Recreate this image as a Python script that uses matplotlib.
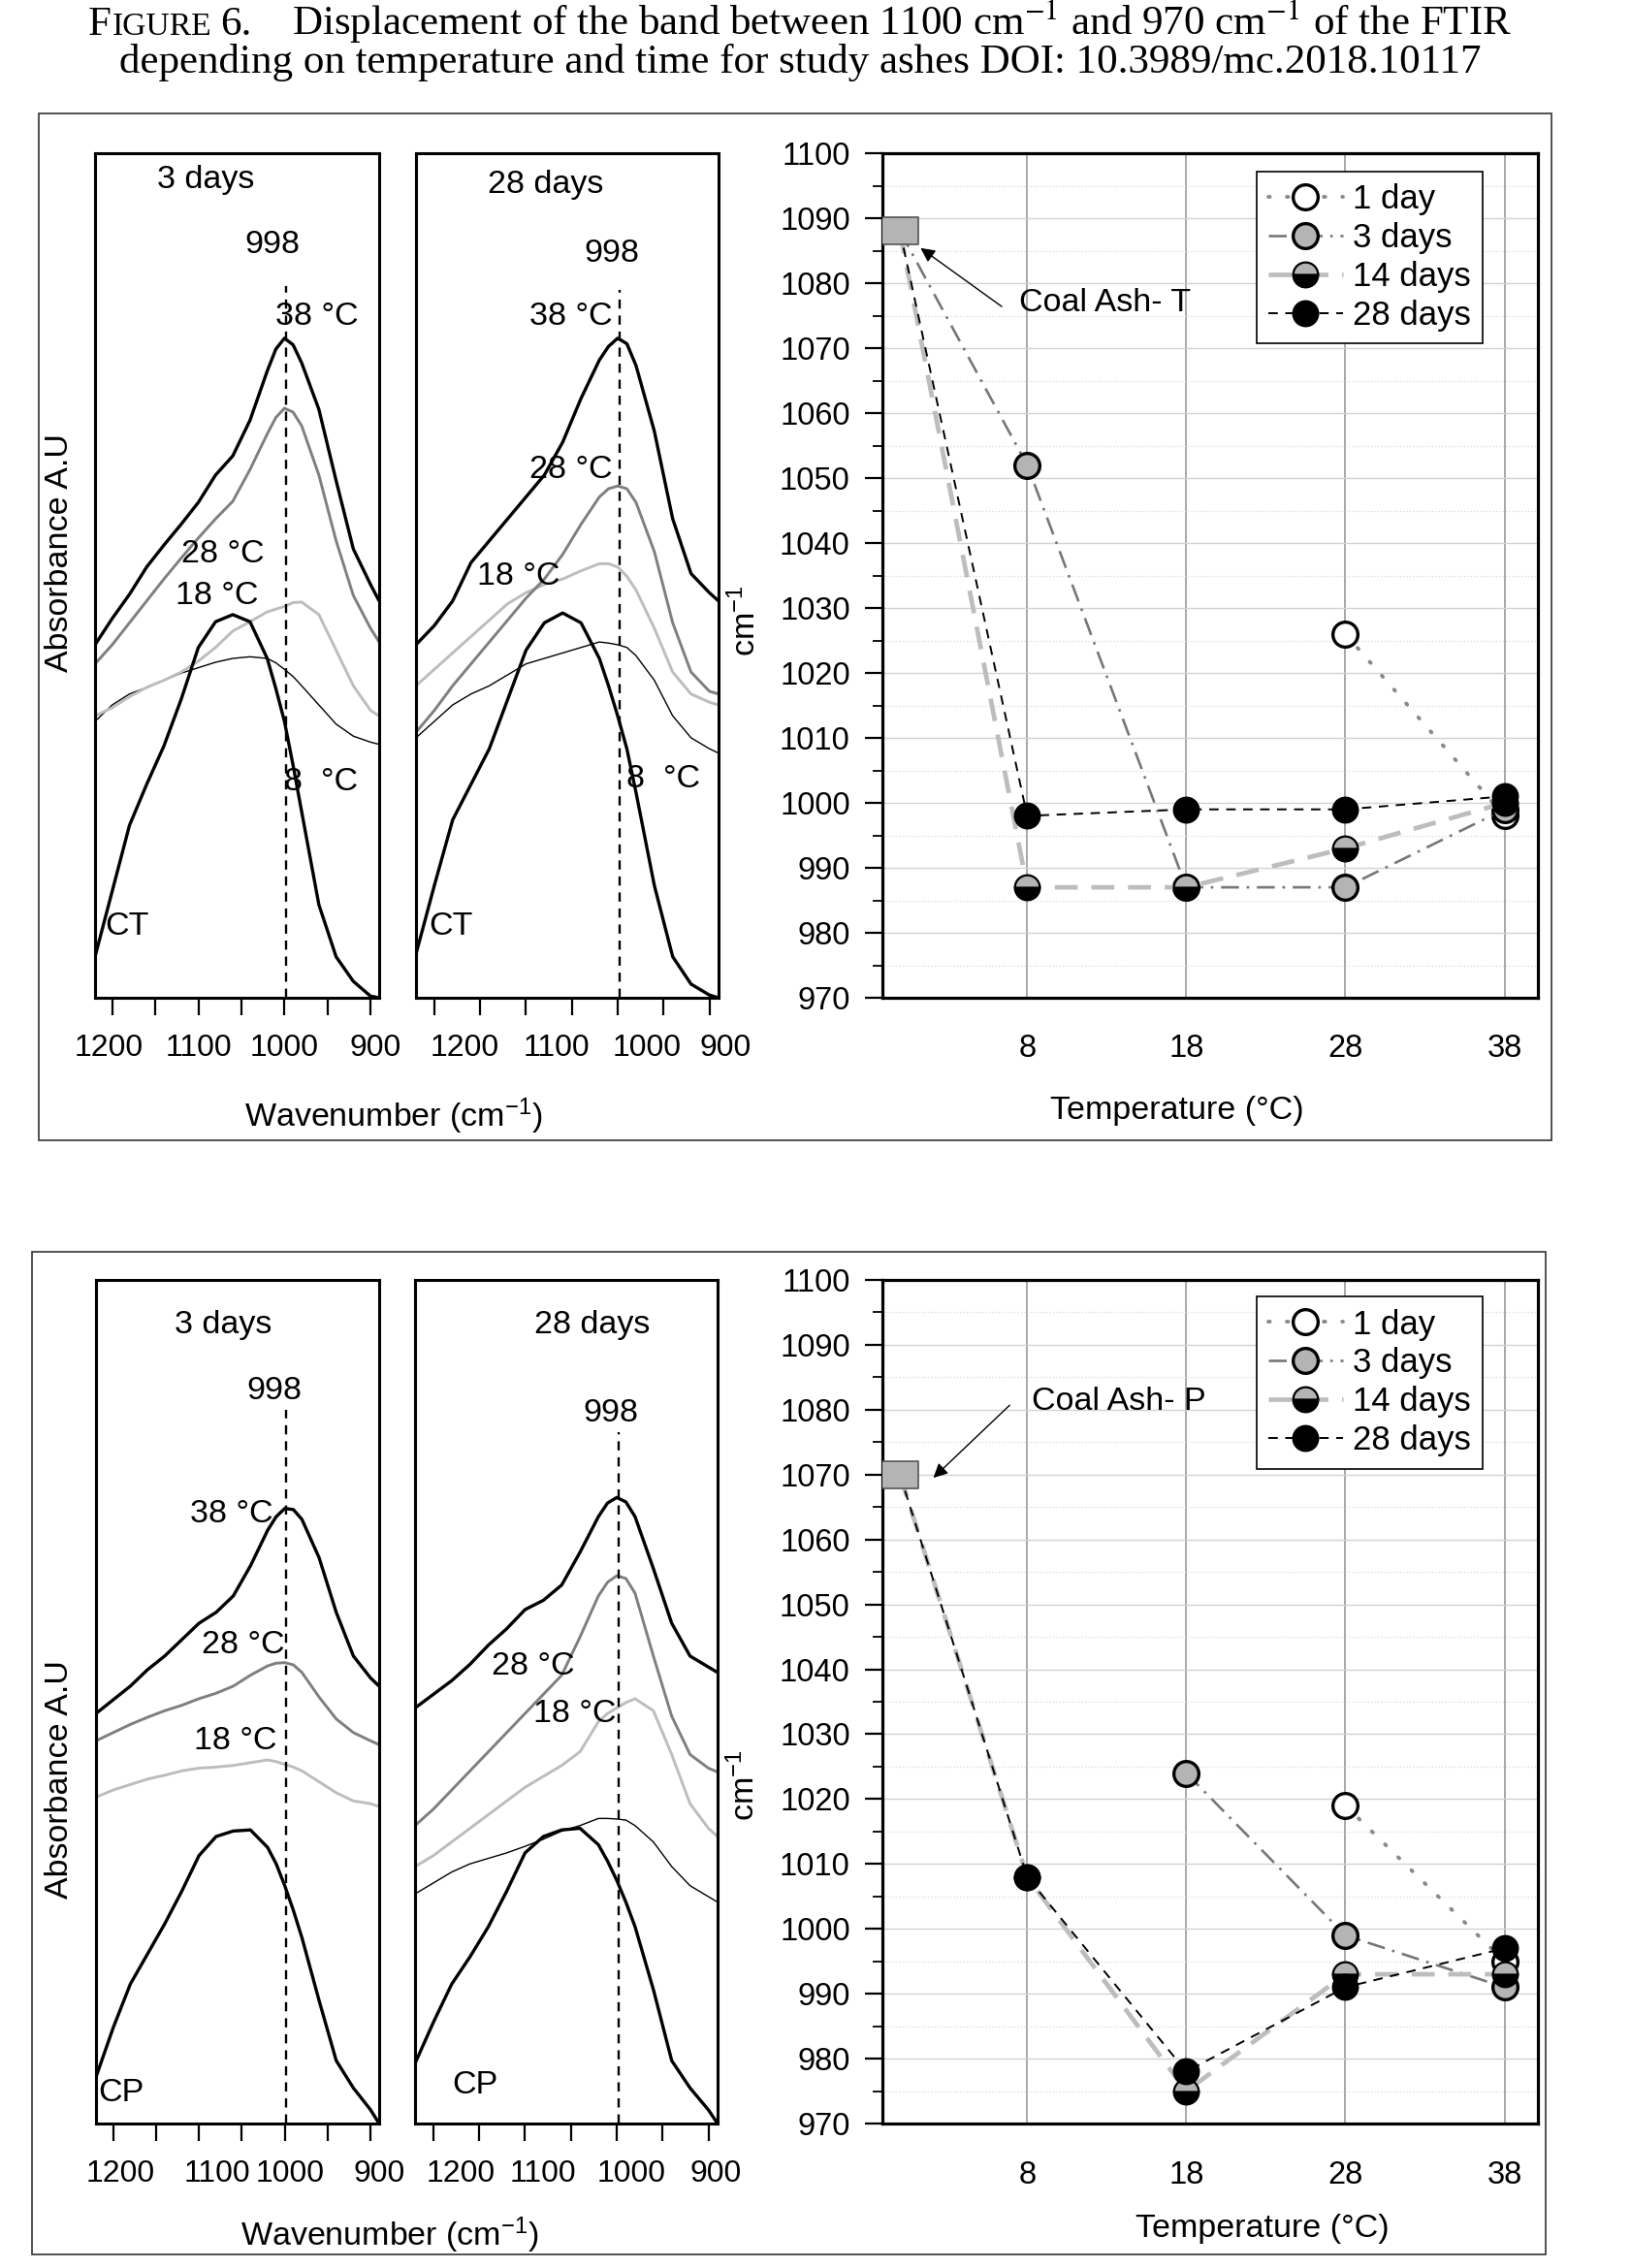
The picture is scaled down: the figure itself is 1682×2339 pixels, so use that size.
import numpy as np
import matplotlib
matplotlib.use('Agg')
import matplotlib.pyplot as plt
from matplotlib.patches import Rectangle
from matplotlib.ticker import FixedLocator, MultipleLocator

plt.rcParams['font.family'] = ['Liberation Sans', 'DejaVu Sans']
plt.rcParams['mathtext.fontset'] = 'custom'
plt.rcParams['mathtext.rm'] = 'Liberation Sans'
plt.rcParams['mathtext.it'] = 'Liberation Sans:italic'
plt.rcParams['mathtext.bf'] = 'Liberation Sans:bold'

# ---------------- data ----------------
wavenumber = [1220, 1200, 1180, 1160, 1140, 1120, 1100, 1080, 1060, 1040,
              1020, 1010, 1000, 990, 980, 960, 940, 920, 900, 890]
wn_ticks = [1200, 1100, 1000, 900]
wn_minor = [1150, 1050, 950]
band_position = 998

# CT, 3 days
ct3_38 = [645, 693, 737, 787, 827, 865, 905, 955, 990, 1055, 1145, 1185, 1205, 1193, 1160, 1075, 945, 820, 755, 725]
ct3_28 = [610, 645, 685, 725, 765, 803, 840, 875, 907, 965, 1030, 1060, 1077, 1070, 1045, 955, 835, 735, 675, 650]
ct3_18 = [515, 530, 550, 567, 580, 595, 615, 640, 670, 687, 705, 710, 715, 722, 723, 700, 635, 570, 525, 515]
ct3_8 = [505, 535, 555, 567, 580, 593, 603, 613, 620, 623, 620, 612, 600, 587, 570, 535, 500, 478, 467, 463]
ct3_raw = [75, 195, 315, 390, 460, 545, 640, 687, 700, 687, 620, 565, 505, 425, 340, 170, 75, 30, 3, 0]

# CT, 28 days
ct28_38 = [645, 680, 725, 795, 835, 875, 915, 955, 1015, 1095, 1165, 1190, 1205, 1195, 1155, 1035, 875, 775, 740, 725]
ct28_28 = [485, 525, 570, 610, 650, 690, 730, 765, 810, 865, 915, 930, 935, 930, 905, 815, 685, 595, 560, 555]
ct28_18 = [570, 600, 630, 660, 690, 720, 740, 755, 765, 780, 793, 793, 787, 770, 745, 675, 595, 555, 540, 535]
ct28_8 = [475, 505, 535, 555, 570, 590, 610, 620, 630, 640, 650, 648, 645, 640, 625, 580, 515, 475, 455, 447]
ct28_raw = [80, 205, 325, 390, 455, 545, 635, 685, 703, 685, 620, 570, 515, 455, 375, 205, 75, 25, 5, 0]

# CP, 3 days
cp3_38 = [750, 775, 800, 830, 855, 885, 915, 935, 965, 1020, 1085, 1110, 1125, 1123, 1105, 1035, 935, 855, 815, 800]
cp3_28 = [700, 715, 730, 743, 755, 765, 777, 787, 800, 820, 837, 842, 843, 839, 825, 780, 740, 715, 700, 693]
cp3_18 = [597, 610, 620, 630, 637, 645, 650, 652, 655, 660, 665, 662, 657, 652, 645, 625, 605, 590, 585, 580]
cp3_raw = [85, 175, 255, 310, 365, 425, 490, 525, 535, 537, 505, 475, 435, 390, 340, 225, 115, 65, 25, 0]

# CP, 28 days
cp28_38 = [760, 785, 810, 840, 875, 905, 940, 957, 985, 1045, 1110, 1135, 1145, 1137, 1110, 1015, 915, 855, 835, 825]
cp28_28 = [545, 575, 610, 645, 680, 715, 750, 785, 820, 890, 965, 990, 1002, 997, 970, 855, 745, 675, 650, 643]
cp28_18 = [470, 490, 515, 540, 565, 590, 615, 635, 655, 680, 735, 750, 760, 770, 777, 755, 675, 585, 540, 525]
cp28_8 = [420, 440, 460, 475, 485, 495, 507, 520, 535, 545, 558, 558, 557, 555, 545, 515, 470, 435, 415, 405]
cp28_raw = [110, 185, 255, 305, 360, 425, 495, 525, 537, 540, 510, 480, 445, 405, 360, 245, 115, 65, 25, 0]

# band position vs temperature (0 = original coal ash)
temperature = [0, 8, 18, 28, 38]
temp_ticks = [8, 18, 28, 38]
nan = np.nan
ct_1day = [nan, nan, nan, 1026, 998]
ct_3days = [1088, 1052, 987, 987, 999]
ct_14days = [1088, 987, 987, 993, 1000]
ct_28days = [1088, 998, 999, 999, 1001]
ct_ash = 1088
cp_1day = [nan, nan, nan, 1019, 995]
cp_3days = [nan, nan, 1024, 999, 991]
cp_14days = [1070, 1008, 975, 993, 993]
cp_28days = [1070, 1008, 978, 991, 997]
cp_ash = 1070
series_labels = ['1 day', '3 days', '14 days', '28 days']

# ---------------- figure ----------------
W, H = 1683, 2339
fig = plt.figure(figsize=(W / 100, H / 100), dpi=100)


def rect(x0, x1, y0, y1):
    return [x0 / W, 1 - y1 / H, (x1 - x0) / W, (y1 - y0) / H]


FS = 24.5
TICK_FS = 23
BLACK_LW = 2.4
GRAY_LW = 2.1
PX2PT = 0.72


def spectra_axes(pos, curves, labels, vtop, label_shift_px):
    ax = fig.add_axes(pos)
    for vals, color, lw in curves:
        ax.plot(wavenumber, vals, color=color, lw=lw, solid_joinstyle='round',
                solid_capstyle='butt')
    ax.plot([band_position, band_position], [0, vtop], color='black', lw=1.7,
            linestyle=(0, (4, 3)))
    ax.set_xlim(1220, 890)
    ax.set_ylim(0, 1543)
    ax.set_yticks([])
    ax.xaxis.set_major_locator(FixedLocator(wn_ticks))
    ax.xaxis.set_minor_locator(FixedLocator(wn_minor))
    ax.tick_params(axis='x', which='both', direction='out', length=13, width=1.6,
                   labelbottom=False)
    # tick labels as placed in the original (slightly shifted from the ticks)
    for v, dx in zip(wn_ticks, label_shift_px):
        ax.annotate(str(v), xy=(v, 0), xycoords=('data', 'axes fraction'),
                    xytext=(dx * PX2PT, -52 * PX2PT), textcoords='offset points',
                    ha='center', va='center', fontsize=TICK_FS, annotation_clip=False)
    for s in ax.spines.values():
        s.set_linewidth(2.2)
    for txt, x, y, ha in labels:
        ax.text(x, y, txt, fontsize=FS, ha=ha, va='center')
    return ax


def scatter_axes(pos, s1, s2, s3, s4, ash, ann_text, ann_xy, ann_tail, ann_txt_xy, leg_y):
    ax = fig.add_axes(pos)
    ax.set_axisbelow(True)
    MS = 18.5
    ax.plot(temperature, s1, color='#8a8a8a', lw=2.8, linestyle=(0, (0.4, 4.5)),
            dash_capstyle='round', marker='o', ms=MS, mfc='white', mec='black',
            mew=2.4, markevery=[1, 2, 3, 4], label=series_labels[0], zorder=3)
    ax.plot(temperature, s2, color='#777777', lw=1.9, linestyle=(0, (7, 3, 1, 3)),
            marker='o', ms=MS, mfc='#b4b4b4', mec='black', mew=2.4,
            markevery=[1, 2, 3, 4], label=series_labels[1], zorder=4)
    ax.plot(temperature, s3, color='#bdbdbd', lw=3.4, linestyle=(0, (5, 3)),
            marker='o', ms=MS, fillstyle='bottom', mfc='black', mfcalt='#b4b4b4',
            mec='black', mew=1.6, markevery=[1, 2, 3, 4], label=series_labels[2], zorder=5)
    ax.plot(temperature, s4, color='black', lw=1.4, linestyle=(0, (5, 4)),
            marker='o', ms=MS, mfc='black', mec='black', mew=1.6,
            markevery=[1, 2, 3, 4], label=series_labels[3], zorder=6)
    ax.plot([temperature[0]], [ash], linestyle='none',
            marker=[(-1.3, -1), (1.3, -1), (1.3, 1), (-1.3, 1), (-1.3, -1)],
            ms=27, mfc='#b4b4b4', mec='#555555', mew=1.2, zorder=7)
    ax.set_xlim(-1.1, 40.1)
    ax.set_ylim(970, 1100)
    ax.set_xticks(temp_ticks)
    ax.set_yticks(np.arange(970, 1101, 10))
    ax.yaxis.set_minor_locator(MultipleLocator(5))
    ax.tick_params(axis='x', length=0, pad=27, labelsize=TICK_FS + 0.5)
    ax.tick_params(axis='y', which='major', direction='out', length=13, width=1.6,
                   labelsize=TICK_FS + 0.5, pad=11)
    ax.tick_params(axis='y', which='minor', direction='out', length=7, width=1.3)
    ax.grid(axis='x', color='#9a9a9a', lw=1.2)
    ax.grid(axis='y', which='major', color='#d2d2d2', lw=1.0)
    ax.grid(axis='y', which='minor', color='#dadada', lw=0.9, linestyle=':')
    for s in ax.spines.values():
        s.set_linewidth(2.3)
    ax.annotate('', xy=ann_xy, xytext=ann_tail,
                arrowprops=dict(arrowstyle='-|>', color='black', lw=1.0,
                                mutation_scale=22, shrinkA=0, shrinkB=0))
    ax.text(ann_txt_xy[0], ann_txt_xy[1], ann_text, fontsize=FS, ha='left', va='center')
    leg = ax.legend(loc='upper left', bbox_to_anchor=(0.571, leg_y), borderaxespad=0,
                    fontsize=FS + 0.5, frameon=True, fancybox=False, framealpha=1,
                    edgecolor='black', handlelength=2.2, handletextpad=0.3,
                    labelspacing=0.2, borderpad=0.35, numpoints=1)
    leg.get_frame().set_linewidth(1.2)
    return ax


# ---- top row (Coal Ash T) ----
spectra_axes(rect(98, 391, 158, 1029),
             [(ct3_8, 'black', 1.0), (ct3_18, '#bdbdbd', GRAY_LW), (ct3_28, '#7f7f7f', GRAY_LW),
              (ct3_raw, 'black', BLACK_LW), (ct3_38, 'black', BLACK_LW)],
             [('3 days', 1091, 1495, 'center'), ('998', 1014, 1375, 'center'),
              ('38 °C', 1010, 1245, 'left'), ('28 °C', 1120, 810, 'left'),
              ('18 °C', 1127, 735, 'left'), ('8  °C', 1000, 395, 'left'),
              ('CT', 1209, 130, 'left')], 1300, [-4, 0, 0, 5])
spectra_axes(rect(429, 741, 158, 1029),
             [(ct28_8, 'black', 1.0), (ct28_18, '#bdbdbd', GRAY_LW), (ct28_28, '#7f7f7f', GRAY_LW),
              (ct28_raw, 'black', BLACK_LW), (ct28_38, 'black', BLACK_LW)],
             [('28 days', 1079, 1485, 'center'), ('998', 1007, 1360, 'center'),
              ('38 °C', 1096, 1245, 'left'), ('28 °C', 1096, 965, 'left'),
              ('18 °C', 1153, 770, 'left'), ('8  °C', 990, 400, 'left'),
              ('CT', 1206, 130, 'left')], 1293, [31, 31, 30, 17])
scatter_axes(rect(910, 1586, 158, 1029), ct_1day, ct_3days, ct_14days, ct_28days, ct_ash,
             'Coal Ash- T', (1.3, 1085.4), (6.4, 1076.4), (7.5, 1077), 0.978)

# ---- bottom row (Coal Ash P) ----
spectra_axes(rect(99, 391, 1320, 2190),
             [(cp3_18, '#bdbdbd', GRAY_LW), (cp3_28, '#7f7f7f', GRAY_LW),
              (cp3_raw, 'black', BLACK_LW), (cp3_38, 'black', BLACK_LW)],
             [('3 days', 1072, 1460, 'center'), ('998', 1012, 1340, 'center'),
              ('38 °C', 1110, 1115, 'left'), ('28 °C', 1097, 875, 'left'),
              ('18 °C', 1106, 700, 'left'), ('CP', 1218, 55, 'left')], 1305, [7, 19, 5, 9])
spectra_axes(rect(428, 740, 1320, 2190),
             [(cp28_8, 'black', 1.0), (cp28_18, '#bdbdbd', GRAY_LW), (cp28_28, '#7f7f7f', GRAY_LW),
              (cp28_raw, 'black', BLACK_LW), (cp28_38, 'black', BLACK_LW)],
             [('28 days', 1027, 1460, 'center'), ('998', 1007, 1300, 'center'),
              ('28 °C', 1136, 837, 'left'), ('18 °C', 1091, 750, 'left'),
              ('CP', 1180, 70, 'left')], 1265, [28, 18, 15, 8])
scatter_axes(rect(910, 1586, 1320, 2190), cp_1day, cp_3days, cp_14days, cp_28days, cp_ash,
             'Coal Ash- P', (2.1, 1069.5), (6.9, 1080.7), (8.3, 1081.3), 0.980)

# ---- axis titles ----
def ftext(x, y, s, **kw):
    fig.text(x / W, 1 - y / H, s, fontsize=FS, ha='center', va='center', **kw)

ftext(406, 1151, 'Wavenumber (cm$^{-1}$)')
ftext(402, 2305, 'Wavenumber (cm$^{-1}$)')
ftext(1214, 1145, 'Temperature (°C)')
ftext(1302, 2298, 'Temperature (°C)')
ftext(62, 570, 'Absorbance A.U', rotation=90)
ftext(62, 1835, 'Absorbance A.U', rotation=90)
ftext(769, 640, 'cm$^{-1}$', rotation=90)
ftext(768, 1841, 'cm$^{-1}$', rotation=90)

# ---- panel frames ----
fig.add_artist(Rectangle((40 / W, 1 - 1176 / H), 1560 / W, 1059 / H, transform=fig.transFigure,
                         fill=False, edgecolor='#333333', lw=1.2))
fig.add_artist(Rectangle((33 / W, 1 - 2325 / H), 1561 / W, 1034 / H, transform=fig.transFigure,
                         fill=False, edgecolor='#333333', lw=1.2))

# ---- title (small caps "FIGURE") ----
renderer = fig.canvas.get_renderer()
TS = 31
serif = ['Liberation Serif', 'DejaVu Serif']


def title_line(pieces, ybase, xc):
    objs = []
    for s, size, gap in pieces:
        t = fig.text(0, 1 - ybase / H, s, fontsize=size, family=serif,
                     math_fontfamily='stix', ha='left', va='baseline')
        objs.append((t, gap))
    widths = [t.get_window_extent(renderer).width for t, g in objs]
    total = sum(widths) + sum(g for t, g in objs)
    x = xc - total / 2
    for (t, g), w in zip(objs, widths):
        x += g
        t.set_x(x / W)
        x += w


title_line([('F', TS, 0), ('IGURE', TS * 0.78, 1), ('6.', TS, 9),
            ('Displacement of the band between 1100 cm$^{-1}$ and 970 cm$^{-1}$ of the FTIR', TS, 42)],
           36, 825)
title_line([('depending on temperature and time for study ashes DOI: 10.3989/mc.2018.10117', TS, 0)],
           75, 825)

fig.savefig('out.png', dpi=100)
